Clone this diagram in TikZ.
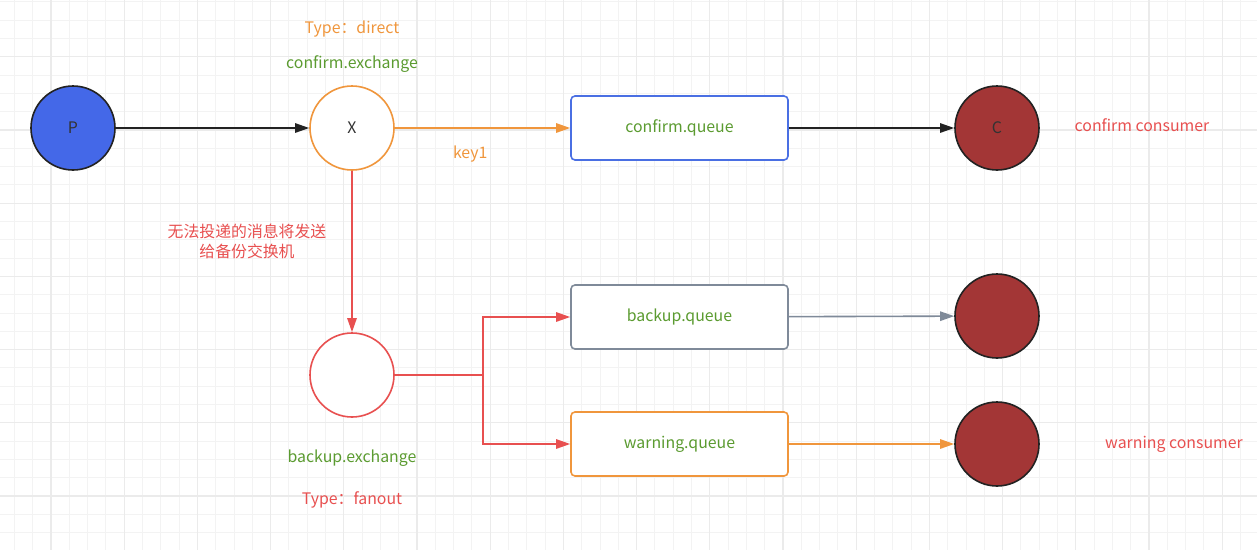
\documentclass[tikz,border=0pt]{standalone}
\usepackage{fontspec}
\setmainfont{Noto Sans CJK SC}
\usetikzlibrary{arrows.meta}
\definecolor{gridminor}{HTML}{F3F3F3}
\definecolor{gridmajor}{HTML}{EBEBEB}
\definecolor{pblue}{HTML}{4468E8}
\definecolor{qblue}{HTML}{4A6FE3}
\definecolor{orng}{HTML}{F0963C}
\definecolor{grn}{HTML}{5B9B30}
\definecolor{redd}{HTML}{E85050}
\definecolor{cred}{HTML}{A33636}
\definecolor{dark}{HTML}{222222}
\definecolor{gry}{HTML}{7F8A99}
\definecolor{txtdark}{HTML}{333333}
\tikzset{
  every node/.style={font=\fontsize{11.9}{15}\selectfont, inner sep=0pt},
  circ/.style={circle, minimum size=63pt, line width=1.2pt},
  queuebox/.style={rectangle, rounded corners=3pt, minimum width=162.75pt, minimum height=48pt, line width=1.2pt, fill=white, text=grn},
  conn/.style={line width=1.2pt, -{Triangle[length=10.5pt,width=7pt]}},
  lbl/.style={align=center}
}
\begin{document}
\begin{tikzpicture}[x=0.75pt,y=-0.75pt]
\useasboundingbox (0,0) rectangle (1257,550);
\fill[white] (0,0) rectangle (1257,550);
% grid
\foreach \i in {0,...,67} {
  \draw[gridminor, line width=0.75pt] ({14.4+18.3*\i},0) -- ({14.4+18.3*\i},550);
}
\foreach \j in {0,...,29} {
  \draw[gridminor, line width=0.75pt] (0,{1.9+18.3*\j}) -- (1257,{1.9+18.3*\j});
}
\foreach \i in {0,...,16} {
  \draw[gridmajor, line width=1pt] ({51+73.2*\i},0) -- ({51+73.2*\i},550);
}
\foreach \j in {0,...,7} {
  \draw[gridmajor, line width=1pt] (0,{56.8+73.2*\j}) -- (1257,{56.8+73.2*\j});
}
% nodes
\node[circ, draw=dark, fill=pblue, text=txtdark] (P) at (73,128) {P};
\node[circ, draw=orng, fill=white, text=txtdark] (X) at (352,128) {X};
\node[circ, draw=redd, fill=white] (BX) at (352,375) {};
\node[queuebox, draw=qblue] (CQ) at (679.5,128) {confirm.queue};
\node[queuebox, draw=gry] (BQ) at (679.5,317) {backup.queue};
\node[queuebox, draw=orng] (WQ) at (679.5,444) {warning.queue};
\node[circ, draw=dark, fill=cred, text=txtdark] (C1) at (997,128) {C};
\node[circ, draw=dark, fill=cred] (C2) at (997,316) {};
\node[circ, draw=dark, fill=cred] (C3) at (997,444) {};
% labels
\node[text=orng] (tdirect) at (352,29) {Type：direct};
\node[text=grn] (cex) at (352,64) {confirm.exchange};
\node[text=grn] (bex) at (352,458) {backup.exchange};
\node[text=redd] (tfan) at (352,500) {Type：fanout};
\node[text=redd] (ccons) at (1142,125) {confirm consumer};
\node[text=redd] (wcons) at (1174,444) {warning consumer};
\node[text=redd, lbl] (note) at (247,241) {无法投递的消息将发送\\给备份交换机};
% connectors
\coordinate (split) at (483,375);
\draw[conn, dark] (P) -- (X);
\draw[conn, orng] (X) -- (CQ) node[pos=0.43, below=13pt, text=orng] (key) {key1};
\draw[conn, dark] (CQ) -- (C1);
\draw[conn, redd] (X) -- (BX);
\draw[line width=1.2pt, redd] (BX) -- (split);
\draw[conn, redd] (split) |- (BQ);
\draw[conn, redd] (split) |- (WQ);
\draw[conn, gry] (BQ) -- (C2);
\draw[conn, orng] (WQ) -- (C3);
\end{tikzpicture}
\end{document}
